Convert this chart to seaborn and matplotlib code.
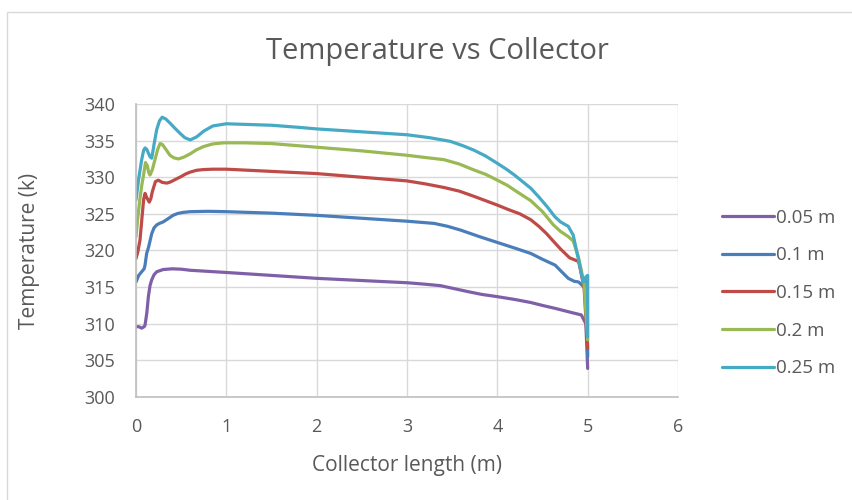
import matplotlib
matplotlib.use("Agg")
import matplotlib.pyplot as plt
import matplotlib.patches as mpatches
import seaborn as sns
import pandas as pd

# ---------------- data ----------------
series_names = ["0.05 m", "0.1 m", "0.15 m", "0.2 m", "0.25 m"]

x_005 = [0, 0.03, 0.063, 0.09, 0.1, 0.12, 0.137, 0.155, 0.174, 0.2, 0.23, 0.3, 0.4, 0.5,
         0.6, 0.8, 1.0, 1.5, 2.0, 2.5, 3.0, 3.2, 3.37, 3.52, 3.67, 3.83, 4.0, 4.2, 4.37,
         4.5, 4.64, 4.8, 4.93, 4.98, 5.0]
t_005 = [309.6, 309.6, 309.4, 309.6, 309.8, 311.5, 313.7, 315.2, 316.0, 316.7, 317.1, 317.4, 317.5, 317.45,
         317.3, 317.15, 317.0, 316.6, 316.2, 315.9, 315.6, 315.4, 315.2, 314.8, 314.4, 314.0, 313.7, 313.3, 312.9,
         312.5, 312.1, 311.6, 311.2, 310.0, 303.9]

x_010 = [0, 0.03, 0.063, 0.09, 0.1, 0.118, 0.14, 0.174, 0.2, 0.23, 0.26, 0.3, 0.35, 0.41, 0.46, 0.52,
         0.6, 0.8, 1.0, 1.5, 2.0, 2.5, 3.0, 3.3, 3.45, 3.59, 3.8, 4.0, 4.2, 4.37, 4.5, 4.64,
         4.72, 4.785, 4.85, 4.9, 4.96, 4.99, 5.0]
t_010 = [315.7, 316.6, 317.1, 317.5, 318.0, 319.6, 320.5, 322.3, 323.1, 323.5, 323.7, 323.9, 324.3, 324.8, 325.05, 325.2,
         325.3, 325.35, 325.3, 325.1, 324.8, 324.4, 324.0, 323.7, 323.3, 322.8, 321.9, 321.1, 320.3, 319.6, 318.8, 318.0,
         317.0, 316.2, 315.8, 315.7, 315.0, 315.8, 305.5]

x_015 = [0, 0.02, 0.044, 0.07, 0.085, 0.1, 0.12, 0.147, 0.165, 0.18, 0.215, 0.247, 0.29, 0.34, 0.38,
         0.42, 0.5, 0.55, 0.6, 0.67, 0.75, 0.85, 1.0, 1.5, 2.0, 2.5, 3.0, 3.2, 3.41, 3.58, 3.74,
         3.87, 4.0, 4.12, 4.25, 4.37, 4.46, 4.545, 4.64, 4.7, 4.75, 4.8, 4.86, 4.9, 4.96, 5.0]
t_015 = [318.9, 319.8, 321.4, 325.0, 327.0, 327.8, 327.2, 326.6, 327.1, 328.0, 329.4, 329.6, 329.3, 329.2, 329.35,
         329.6, 330.1, 330.45, 330.7, 330.95, 331.05, 331.1, 331.1, 330.8, 330.5, 330.0, 329.5, 329.1, 328.6, 328.1, 327.4,
         326.8, 326.2, 325.6, 325.0, 324.2, 323.3, 322.3, 321.0, 320.2, 319.6, 319.0, 318.7, 318.5, 315.0, 306.6]

x_020 = [0, 0.02, 0.044, 0.065, 0.081, 0.105, 0.125, 0.14, 0.155, 0.18, 0.21, 0.24, 0.266, 0.29, 0.32,
         0.376, 0.42, 0.47, 0.53, 0.6, 0.67, 0.75, 0.85, 0.97, 1.2, 1.5, 2.0, 2.5, 3.0, 3.2, 3.41,
         3.58, 3.74, 3.87, 4.0, 4.11, 4.22, 4.37, 4.5, 4.62, 4.7, 4.785, 4.84, 4.9, 4.96, 5.0]
t_020 = [321.9, 324.5, 327.1, 329.0, 330.1, 332.0, 331.6, 330.7, 330.3, 331.0, 332.4, 333.8, 334.6, 334.5, 334.0,
         333.0, 332.65, 332.5, 332.75, 333.2, 333.75, 334.2, 334.55, 334.7, 334.7, 334.6, 334.1, 333.6, 333.0, 332.7, 332.4,
         331.8, 331.0, 330.4, 329.6, 328.9, 328.0, 326.8, 325.3, 323.5, 322.6, 321.9, 321.3, 319.0, 315.5, 307.8]

x_025 = [0, 0.03, 0.063, 0.085, 0.1, 0.12, 0.137, 0.155, 0.174, 0.2, 0.229, 0.26, 0.29, 0.33, 0.376,
         0.43, 0.487, 0.54, 0.6, 0.67, 0.75, 0.85, 1.0, 1.5, 1.815, 2.0, 2.5, 3.0, 3.25, 3.48,
         3.62, 3.74, 3.87, 4.0, 4.1, 4.19, 4.28, 4.37, 4.46, 4.55, 4.638, 4.7, 4.785, 4.84,
         4.915, 4.95, 4.98, 5.0, 5.0]
t_025 = [326.9, 329.8, 332.4, 333.7, 334.0, 333.8, 333.3, 332.8, 332.6, 334.5, 336.5, 337.7, 338.2, 337.95, 337.4,
         336.7, 336.0, 335.4, 335.1, 335.5, 336.3, 337.0, 337.3, 337.1, 336.8, 336.6, 336.2, 335.8, 335.4, 334.9,
         334.3, 333.7, 332.9, 331.9, 331.1, 330.3, 329.4, 328.5, 327.3, 326.0, 324.6, 323.9, 323.3, 322.1,
         317.8, 315.7, 316.4, 316.6, 308.2]

x_ticks = [0, 1, 2, 3, 4, 5, 6]
y_ticks = [300, 305, 310, 315, 320, 325, 330, 335, 340]

colors = ["#7F60A8", "#4A7EBB", "#BE4B48", "#98B954", "#46AAC5"]

# ---------------- frame ----------------
frames = []
for name, xs, ts in zip(series_names,
                        [x_005, x_010, x_015, x_020, x_025],
                        [t_005, t_010, t_015, t_020, t_025]):
    frames.append(pd.DataFrame({"x": xs, "T": ts, "series": name}))
df = pd.concat(frames, ignore_index=True)

sns.set_theme(style="white")
plt.rcParams["font.family"] = ["Open Sans", "DejaVu Sans"]

fig = plt.figure(figsize=(8.52, 5.0), dpi=100)
ax = fig.add_axes([136 / 852, 1 - 397 / 500, (678 - 136) / 852, (397 - 104) / 500])

sns.lineplot(data=df, x="x", y="T", hue="series", hue_order=series_names,
             palette=dict(zip(series_names, colors)), estimator=None, sort=False,
             linewidth=2.3, ax=ax, legend=True,
             solid_joinstyle="round", solid_capstyle="round")

ax.set_xlim(0, 6)
ax.set_ylim(300, 340)
ax.set_xticks(x_ticks)
ax.set_yticks(y_ticks)
ax.set_xticklabels([str(v) for v in x_ticks])
ax.set_yticklabels([str(v) for v in y_ticks])
ax.grid(True, color="#d9d9d9", linewidth=1.0)
ax.set_axisbelow(True)
for s in ["top", "right"]:
    ax.spines[s].set_visible(False)
for s in ["left", "bottom"]:
    ax.spines[s].set_color("#bfbfbf")
    ax.spines[s].set_linewidth(1.2)
ax.tick_params(axis="both", length=0, labelsize=13, labelcolor="#595959")
ax.tick_params(axis="x", pad=15)
ax.tick_params(axis="y", pad=15)
ax.set_xlabel("")
ax.set_ylabel("")

handles, labels = ax.get_legend_handles_labels()
ax.get_legend().remove()
fig.legend(handles, labels, loc="center left", bbox_to_anchor=(722 / 852, 1 - 293 / 500),
           bbox_transform=fig.transFigure, frameon=False, fontsize=13.5,
           labelspacing=1.05, handlelength=2.75, handletextpad=0.12,
           borderpad=0, borderaxespad=0, labelcolor="#595959")

fig.text(437 / 852, 1 - 59 / 500, "Temperature vs Collector", ha="center", va="baseline",
         fontsize=21, color="#595959")
fig.text(407 / 852, 1 - 465 / 500, "Collector length (m)", ha="center", va="center",
         fontsize=15, color="#595959")
fig.text(30 / 852, 1 - 251 / 500, "Temperature (k)", ha="center", va="center",
         rotation=90, fontsize=15, color="#595959")

border = mpatches.Rectangle((7 / 852, -0.1), 1.2, 1.1 - 12 / 500,
                            transform=fig.transFigure, fill=False,
                            edgecolor="#d9d9d9", linewidth=1.0, clip_on=False)
fig.patches.append(border)

fig.savefig("out.png", dpi=100)
